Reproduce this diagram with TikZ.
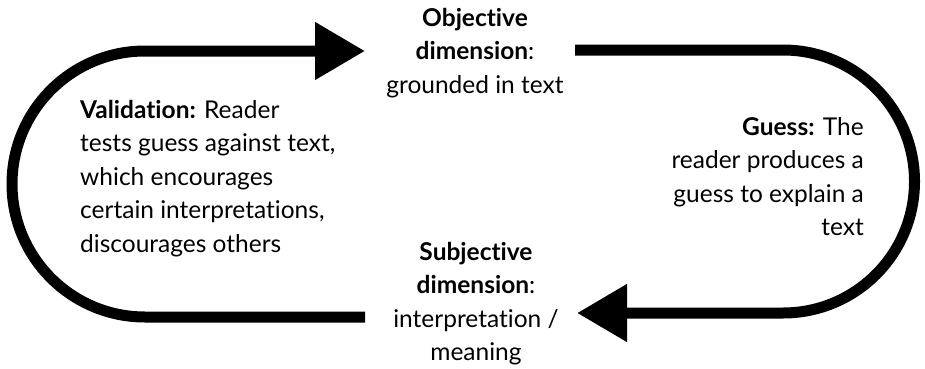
\documentclass[tikz,border=0pt]{standalone}
\usepackage{fontspec}
\setmainfont{Lato}[Ligatures={NoCommon}]
\usetikzlibrary{arrows.meta,positioning}

\tikzset{
  lbl/.style={inner sep=0pt, font=\fontsize{24.5}{33.5}\selectfont},
  loopline/.style={line width=11pt, black},
  bighead/.style={-{Triangle[length=50pt,width=55pt]}}
}

\begin{document}
\begin{tikzpicture}[x=1pt,y=1pt]
  \useasboundingbox[fill=white] (0,0) rectangle (925,368);

  % text blocks
  \node[lbl, align=center, anchor=north] (obj) at (475,360)
    {\textbf{Objective}\\\textbf{dimension}:\\grounded in text};
  \node[lbl, align=left, anchor=north west] (valid) at (80,268)
    {\textbf{Validation:} Reader\\tests guess against text,\\which encourages\\certain interpretations,\\discourages others};
  \node[lbl, align=right, anchor=north east] (guess) at (864,251)
    {\textbf{Guess:} The\\reader produces a\\guess to explain a\\text};
  \node[lbl, align=center, anchor=north] (subj) at (476,126)
    {\textbf{Subjective}\\\textbf{dimension}:\\interpretation /\\meaning};

  % loop ends
  \coordinate (valstart) at (365,51);
  \coordinate (objtip) at (365,317);
  \coordinate (guessstart) at (575,318);
  \coordinate (subjtip) at (577,55);

  % validation loop (left)
  \draw[loopline, bighead] (valstart) -- (145,51)
    arc[start angle=270, end angle=90, radius=133] -- (objtip);
  % guess loop (right)
  \draw[loopline, bighead] (guessstart) -- (783,318)
    arc[start angle=90, end angle=-90, radius=131.5] -- (subjtip);
\end{tikzpicture}
\end{document}
